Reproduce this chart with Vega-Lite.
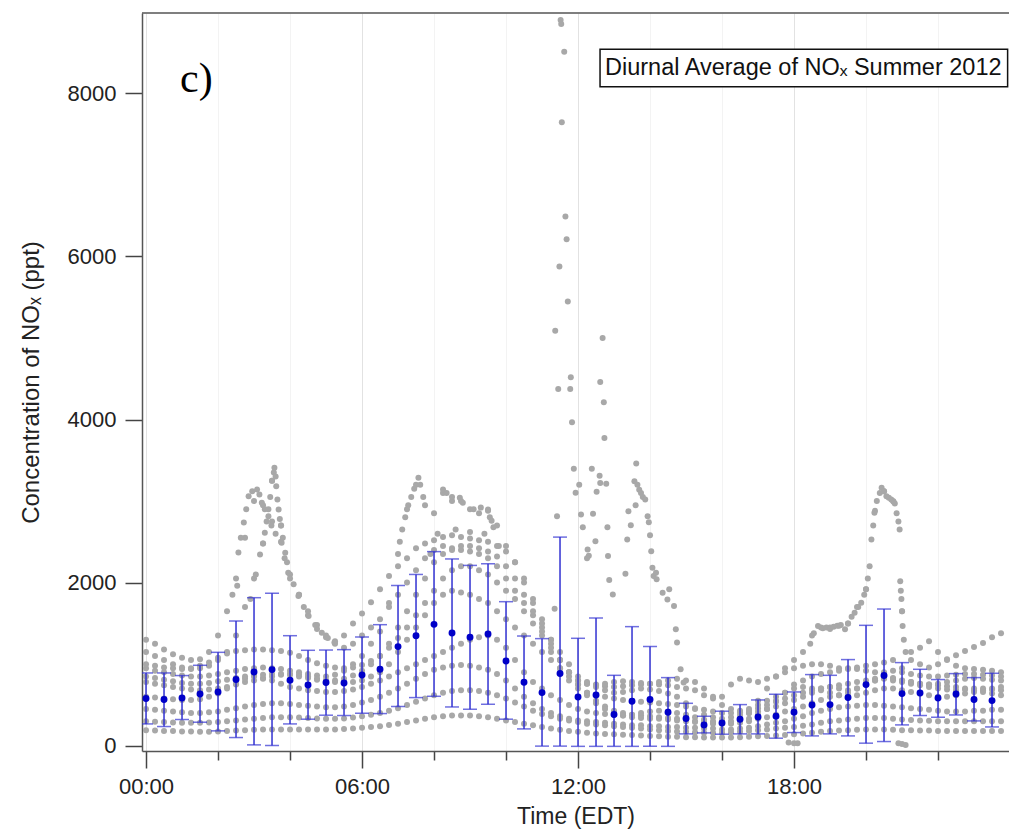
{
"$schema": "https://vega.github.io/schema/vega-lite/v6.json",
"width": 867, "height": 738,
"autosize": "none",
"padding": {"left": 142, "top": 13, "right": 0, "bottom": 84},
"background": "white",
"config": {"view": {"stroke": null}, "font": "Liberation Sans"},
"datasets": {
"g": [
{"t":0,"v":1300},{"t":15,"v":1250},{"t":30,"v":1180},{"t":45,"v":1120},{"t":60,"v":1080},{"t":75,"v":1050},{"t":90,"v":1060},{"t":105,"v":1150},{"t":120,"v":1350},{"t":135,"v":1650},{"t":150,"v":2050},{"t":165,"v":2550},{"t":180,"v":3000},{"t":195,"v":2950},{"t":210,"v":2750},{"t":225,"v":2500},{"t":240,"v":2100},{"t":255,"v":1850},{"t":270,"v":1600},{"t":285,"v":1430},{"t":300,"v":1330},{"t":315,"v":1280},{"t":330,"v":1350},{"t":345,"v":1500},{"t":360,"v":1620},{"t":375,"v":1760},{"t":390,"v":1920},{"t":405,"v":2080},{"t":420,"v":2200},{"t":435,"v":2300},{"t":450,"v":2420},{"t":465,"v":2480},{"t":480,"v":2520},{"t":495,"v":2560},{"t":510,"v":2580},{"t":525,"v":2560},{"t":540,"v":2540},{"t":555,"v":2520},{"t":570,"v":2500},{"t":585,"v":2450},{"t":600,"v":2380},{"t":615,"v":2250},{"t":630,"v":2050},{"t":645,"v":1800},{"t":660,"v":1550},{"t":675,"v":1300},{"t":690,"v":1050},{"t":705,"v":900},{"t":720,"v":800},{"t":735,"v":760},{"t":750,"v":740},{"t":765,"v":730},{"t":780,"v":720},{"t":795,"v":730},{"t":810,"v":740},{"t":825,"v":750},{"t":840,"v":760},{"t":855,"v":750},{"t":870,"v":740},{"t":885,"v":720},{"t":900,"v":700},{"t":915,"v":680},{"t":930,"v":620},{"t":945,"v":580},{"t":960,"v":600},{"t":975,"v":750},{"t":990,"v":820},{"t":1005,"v":800},{"t":1020,"v":780},{"t":1035,"v":820},{"t":1050,"v":850},{"t":1065,"v":900},{"t":1080,"v":950},{"t":1095,"v":980},{"t":1110,"v":1000},{"t":1125,"v":1000},{"t":1140,"v":980},{"t":1155,"v":950},{"t":1170,"v":950},{"t":1185,"v":940},{"t":1200,"v":920},{"t":1215,"v":900},{"t":1230,"v":900},{"t":1245,"v":920},{"t":1260,"v":950},{"t":1275,"v":1050},{"t":1290,"v":1200},{"t":1305,"v":1280},{"t":1320,"v":1150},{"t":1335,"v":1050},{"t":1350,"v":980},{"t":1365,"v":950},{"t":1380,"v":940},{"t":1395,"v":930},{"t":1410,"v":920},{"t":1425,"v":900},
{"t":0,"v":1150},{"t":15,"v":1100},{"t":30,"v":1050},{"t":45,"v":1000},{"t":60,"v":960},{"t":75,"v":940},{"t":90,"v":950},{"t":105,"v":980},{"t":120,"v":1050},{"t":135,"v":1150},{"t":150,"v":1350},{"t":165,"v":1700},{"t":180,"v":2050},{"t":195,"v":2480},{"t":210,"v":3250},{"t":225,"v":2700},{"t":240,"v":2050},{"t":255,"v":1850},{"t":270,"v":1650},{"t":285,"v":1480},{"t":300,"v":1350},{"t":315,"v":1250},{"t":330,"v":1200},{"t":345,"v":1250},{"t":360,"v":1350},{"t":375,"v":1450},{"t":390,"v":1550},{"t":405,"v":1700},{"t":420,"v":1850},{"t":435,"v":2000},{"t":450,"v":2150},{"t":465,"v":2300},{"t":480,"v":2400},{"t":495,"v":2450},{"t":510,"v":2420},{"t":525,"v":2400},{"t":540,"v":2380},{"t":555,"v":2350},{"t":570,"v":2300},{"t":585,"v":2200},{"t":600,"v":2050},{"t":615,"v":1900},{"t":630,"v":1750},{"t":645,"v":1600},{"t":660,"v":1450},{"t":675,"v":1300},{"t":690,"v":1150},{"t":705,"v":1000},{"t":720,"v":850},{"t":735,"v":780},{"t":750,"v":720},{"t":765,"v":680},{"t":780,"v":650},{"t":795,"v":660},{"t":810,"v":680},{"t":825,"v":700},{"t":840,"v":690},{"t":855,"v":670},{"t":870,"v":640},{"t":885,"v":600},{"t":900,"v":520},{"t":915,"v":450},{"t":930,"v":380},{"t":945,"v":350},{"t":960,"v":330},{"t":975,"v":350},{"t":990,"v":380},{"t":1005,"v":400},{"t":1020,"v":420},{"t":1035,"v":450},{"t":1050,"v":480},{"t":1065,"v":520},{"t":1080,"v":560},{"t":1095,"v":600},{"t":1110,"v":650},{"t":1125,"v":700},{"t":1140,"v":720},{"t":1155,"v":700},{"t":1170,"v":680},{"t":1185,"v":700},{"t":1200,"v":750},{"t":1215,"v":800},{"t":1230,"v":820},{"t":1245,"v":800},{"t":1260,"v":780},{"t":1275,"v":760},{"t":1290,"v":740},{"t":1305,"v":720},{"t":1320,"v":700},{"t":1335,"v":690},{"t":1350,"v":680},{"t":1365,"v":690},{"t":1380,"v":700},{"t":1395,"v":700},{"t":1410,"v":690},{"t":1425,"v":680},
{"t":0,"v":950},{"t":15,"v":920},{"t":30,"v":900},{"t":45,"v":880},{"t":60,"v":860},{"t":75,"v":850},{"t":90,"v":850},{"t":105,"v":860},{"t":120,"v":880},{"t":135,"v":900},{"t":150,"v":920},{"t":165,"v":940},{"t":180,"v":950},{"t":195,"v":960},{"t":210,"v":950},{"t":225,"v":940},{"t":240,"v":920},{"t":255,"v":900},{"t":270,"v":880},{"t":285,"v":860},{"t":300,"v":850},{"t":315,"v":870},{"t":330,"v":920},{"t":345,"v":1000},{"t":360,"v":1100},{"t":375,"v":1250},{"t":390,"v":1400},{"t":405,"v":1750},{"t":420,"v":2350},{"t":435,"v":2900},{"t":450,"v":3200},{"t":465,"v":2950},{"t":480,"v":2850},{"t":495,"v":3100},{"t":510,"v":3000},{"t":525,"v":3000},{"t":540,"v":2900},{"t":555,"v":2850},{"t":570,"v":2880},{"t":585,"v":2700},{"t":600,"v":2450},{"t":615,"v":2250},{"t":630,"v":2000},{"t":645,"v":1750},{"t":660,"v":1500},{"t":675,"v":1250},{"t":690,"v":1050},{"t":705,"v":900},{"t":720,"v":800},{"t":735,"v":760},{"t":750,"v":750},{"t":765,"v":760},{"t":780,"v":780},{"t":795,"v":790},{"t":810,"v":780},{"t":825,"v":770},{"t":840,"v":760},{"t":855,"v":780},{"t":870,"v":800},{"t":885,"v":820},{"t":900,"v":800},{"t":915,"v":780},{"t":930,"v":700},{"t":945,"v":600},{"t":960,"v":500},{"t":975,"v":450},{"t":990,"v":430},{"t":1005,"v":450},{"t":1020,"v":500},{"t":1035,"v":550},{"t":1050,"v":600},{"t":1065,"v":650},{"t":1080,"v":700},{"t":1095,"v":720},{"t":1110,"v":700},{"t":1125,"v":680},{"t":1140,"v":650},{"t":1155,"v":620},{"t":1170,"v":600},{"t":1185,"v":620},{"t":1200,"v":650},{"t":1215,"v":680},{"t":1230,"v":700},{"t":1245,"v":700},{"t":1260,"v":680},{"t":1275,"v":660},{"t":1290,"v":640},{"t":1305,"v":620},{"t":1320,"v":600},{"t":1335,"v":600},{"t":1350,"v":620},{"t":1365,"v":640},{"t":1380,"v":660},{"t":1395,"v":680},{"t":1410,"v":700},{"t":1425,"v":720},
{"t":0,"v":780},{"t":15,"v":760},{"t":30,"v":740},{"t":45,"v":720},{"t":60,"v":700},{"t":75,"v":690},{"t":90,"v":680},{"t":105,"v":690},{"t":120,"v":700},{"t":135,"v":720},{"t":150,"v":750},{"t":165,"v":780},{"t":180,"v":800},{"t":195,"v":820},{"t":210,"v":850},{"t":225,"v":870},{"t":240,"v":880},{"t":255,"v":870},{"t":270,"v":850},{"t":285,"v":820},{"t":300,"v":800},{"t":315,"v":780},{"t":330,"v":770},{"t":345,"v":780},{"t":360,"v":800},{"t":375,"v":850},{"t":390,"v":900},{"t":405,"v":1000},{"t":420,"v":1150},{"t":435,"v":1300},{"t":450,"v":1450},{"t":465,"v":1600},{"t":480,"v":1750},{"t":495,"v":1850},{"t":510,"v":1900},{"t":525,"v":1880},{"t":540,"v":1850},{"t":555,"v":1800},{"t":570,"v":1750},{"t":585,"v":1650},{"t":600,"v":1550},{"t":615,"v":1450},{"t":630,"v":1350},{"t":645,"v":1250},{"t":660,"v":1150},{"t":675,"v":1050},{"t":690,"v":950},{"t":705,"v":850},{"t":720,"v":750},{"t":735,"v":650},{"t":750,"v":550},{"t":765,"v":480},{"t":780,"v":430},{"t":795,"v":400},{"t":810,"v":380},{"t":825,"v":370},{"t":840,"v":360},{"t":855,"v":350},{"t":870,"v":340},{"t":885,"v":330},{"t":900,"v":320},{"t":915,"v":300},{"t":930,"v":290},{"t":945,"v":280},{"t":960,"v":290},{"t":975,"v":300},{"t":990,"v":320},{"t":1005,"v":400},{"t":1020,"v":550},{"t":1035,"v":700},{"t":1050,"v":850},{"t":1065,"v":950},{"t":1080,"v":1050},{"t":1095,"v":1150},{"t":1110,"v":1350},{"t":1125,"v":1450},{"t":1140,"v":1450},{"t":1155,"v":1470},{"t":1170,"v":1500},{"t":1185,"v":1700},{"t":1200,"v":1920},{"t":1215,"v":2880},{"t":1230,"v":3120},{"t":1245,"v":3000},{"t":1260,"v":1650},{"t":1275,"v":1150},{"t":1290,"v":1000},{"t":1305,"v":960},{"t":1320,"v":1000},{"t":1335,"v":1060},{"t":1350,"v":1110},{"t":1365,"v":1160},{"t":1380,"v":1210},{"t":1395,"v":1260},{"t":1410,"v":1330},{"t":1425,"v":1380},
{"t":0,"v":600},{"t":15,"v":590},{"t":30,"v":580},{"t":45,"v":570},{"t":60,"v":560},{"t":75,"v":560},{"t":90,"v":570},{"t":105,"v":600},{"t":120,"v":640},{"t":135,"v":700},{"t":150,"v":760},{"t":165,"v":820},{"t":180,"v":850},{"t":195,"v":830},{"t":210,"v":800},{"t":225,"v":760},{"t":240,"v":720},{"t":255,"v":700},{"t":270,"v":680},{"t":285,"v":670},{"t":300,"v":660},{"t":315,"v":660},{"t":330,"v":670},{"t":345,"v":690},{"t":360,"v":720},{"t":375,"v":760},{"t":390,"v":800},{"t":405,"v":850},{"t":420,"v":900},{"t":435,"v":950},{"t":450,"v":1000},{"t":465,"v":1050},{"t":480,"v":1100},{"t":495,"v":1150},{"t":510,"v":1200},{"t":525,"v":1250},{"t":540,"v":1300},{"t":555,"v":1330},{"t":570,"v":1350},{"t":585,"v":1300},{"t":600,"v":1200},{"t":615,"v":1050},{"t":630,"v":900},{"t":645,"v":780},{"t":660,"v":700},{"t":675,"v":620},{"t":690,"v":560},{"t":705,"v":500},{"t":720,"v":450},{"t":735,"v":420},{"t":750,"v":400},{"t":765,"v":390},{"t":780,"v":380},{"t":795,"v":370},{"t":810,"v":380},{"t":825,"v":400},{"t":840,"v":420},{"t":855,"v":430},{"t":870,"v":420},{"t":885,"v":400},{"t":900,"v":380},{"t":915,"v":350},{"t":930,"v":320},{"t":945,"v":300},{"t":960,"v":280},{"t":975,"v":270},{"t":990,"v":280},{"t":1005,"v":300},{"t":1020,"v":330},{"t":1035,"v":350},{"t":1050,"v":380},{"t":1065,"v":420},{"t":1080,"v":450},{"t":1095,"v":480},{"t":1110,"v":520},{"t":1125,"v":560},{"t":1140,"v":600},{"t":1155,"v":620},{"t":1170,"v":650},{"t":1185,"v":700},{"t":1200,"v":750},{"t":1215,"v":800},{"t":1230,"v":850},{"t":1245,"v":830},{"t":1260,"v":800},{"t":1275,"v":780},{"t":1290,"v":760},{"t":1305,"v":750},{"t":1320,"v":740},{"t":1335,"v":730},{"t":1350,"v":720},{"t":1365,"v":700},{"t":1380,"v":680},{"t":1395,"v":660},{"t":1410,"v":640},{"t":1425,"v":620},
{"t":0,"v":450},{"t":15,"v":440},{"t":30,"v":430},{"t":45,"v":420},{"t":60,"v":410},{"t":75,"v":400},{"t":90,"v":400},{"t":105,"v":410},{"t":120,"v":420},{"t":135,"v":440},{"t":150,"v":460},{"t":165,"v":480},{"t":180,"v":500},{"t":195,"v":510},{"t":210,"v":520},{"t":225,"v":520},{"t":240,"v":510},{"t":255,"v":500},{"t":270,"v":490},{"t":285,"v":480},{"t":300,"v":470},{"t":315,"v":470},{"t":330,"v":480},{"t":345,"v":500},{"t":360,"v":530},{"t":375,"v":560},{"t":390,"v":600},{"t":405,"v":650},{"t":420,"v":700},{"t":435,"v":760},{"t":450,"v":820},{"t":465,"v":880},{"t":480,"v":930},{"t":495,"v":960},{"t":510,"v":980},{"t":525,"v":990},{"t":540,"v":980},{"t":555,"v":960},{"t":570,"v":930},{"t":585,"v":880},{"t":600,"v":800},{"t":615,"v":700},{"t":630,"v":600},{"t":645,"v":520},{"t":660,"v":450},{"t":675,"v":400},{"t":690,"v":360},{"t":705,"v":330},{"t":720,"v":310},{"t":735,"v":300},{"t":750,"v":290},{"t":765,"v":280},{"t":780,"v":270},{"t":795,"v":260},{"t":810,"v":250},{"t":825,"v":250},{"t":840,"v":240},{"t":855,"v":240},{"t":870,"v":230},{"t":885,"v":230},{"t":900,"v":220},{"t":915,"v":220},{"t":930,"v":210},{"t":945,"v":210},{"t":960,"v":200},{"t":975,"v":200},{"t":990,"v":210},{"t":1005,"v":220},{"t":1020,"v":240},{"t":1035,"v":260},{"t":1050,"v":280},{"t":1065,"v":300},{"t":1080,"v":330},{"t":1095,"v":360},{"t":1110,"v":400},{"t":1125,"v":430},{"t":1140,"v":450},{"t":1155,"v":470},{"t":1170,"v":480},{"t":1185,"v":490},{"t":1200,"v":500},{"t":1215,"v":500},{"t":1230,"v":490},{"t":1245,"v":480},{"t":1260,"v":470},{"t":1275,"v":460},{"t":1290,"v":450},{"t":1305,"v":440},{"t":1320,"v":430},{"t":1335,"v":420},{"t":1350,"v":420},{"t":1365,"v":420},{"t":1380,"v":430},{"t":1395,"v":430},{"t":1410,"v":440},{"t":1425,"v":440},
{"t":0,"v":300},{"t":15,"v":295},{"t":30,"v":290},{"t":45,"v":285},{"t":60,"v":280},{"t":75,"v":280},{"t":90,"v":280},{"t":105,"v":285},{"t":120,"v":290},{"t":135,"v":300},{"t":150,"v":310},{"t":165,"v":320},{"t":180,"v":330},{"t":195,"v":340},{"t":210,"v":350},{"t":225,"v":350},{"t":240,"v":350},{"t":255,"v":345},{"t":270,"v":340},{"t":285,"v":335},{"t":300,"v":330},{"t":315,"v":330},{"t":330,"v":335},{"t":345,"v":345},{"t":360,"v":360},{"t":375,"v":380},{"t":390,"v":400},{"t":405,"v":430},{"t":420,"v":460},{"t":435,"v":500},{"t":450,"v":540},{"t":465,"v":580},{"t":480,"v":620},{"t":495,"v":650},{"t":510,"v":670},{"t":525,"v":680},{"t":540,"v":680},{"t":555,"v":670},{"t":570,"v":650},{"t":585,"v":620},{"t":600,"v":580},{"t":615,"v":530},{"t":630,"v":480},{"t":645,"v":430},{"t":660,"v":390},{"t":675,"v":360},{"t":690,"v":330},{"t":705,"v":310},{"t":720,"v":290},{"t":735,"v":270},{"t":750,"v":260},{"t":765,"v":250},{"t":780,"v":240},{"t":795,"v":230},{"t":810,"v":220},{"t":825,"v":210},{"t":840,"v":200},{"t":855,"v":190},{"t":870,"v":180},{"t":885,"v":175},{"t":900,"v":170},{"t":915,"v":165},{"t":930,"v":160},{"t":945,"v":160},{"t":960,"v":160},{"t":975,"v":165},{"t":990,"v":170},{"t":1005,"v":180},{"t":1020,"v":190},{"t":1035,"v":200},{"t":1050,"v":210},{"t":1065,"v":220},{"t":1080,"v":230},{"t":1095,"v":245},{"t":1110,"v":260},{"t":1125,"v":280},{"t":1140,"v":300},{"t":1155,"v":310},{"t":1170,"v":320},{"t":1185,"v":330},{"t":1200,"v":340},{"t":1215,"v":340},{"t":1230,"v":340},{"t":1245,"v":330},{"t":1260,"v":320},{"t":1275,"v":315},{"t":1290,"v":310},{"t":1305,"v":305},{"t":1320,"v":300},{"t":1335,"v":300},{"t":1350,"v":300},{"t":1365,"v":300},{"t":1380,"v":300},{"t":1395,"v":300},{"t":1410,"v":300},{"t":1425,"v":300},
{"t":0,"v":190},{"t":15,"v":185},{"t":30,"v":180},{"t":45,"v":180},{"t":60,"v":175},{"t":75,"v":175},{"t":90,"v":170},{"t":105,"v":170},{"t":120,"v":175},{"t":135,"v":180},{"t":150,"v":185},{"t":165,"v":190},{"t":180,"v":195},{"t":195,"v":200},{"t":210,"v":200},{"t":225,"v":200},{"t":240,"v":200},{"t":255,"v":200},{"t":270,"v":200},{"t":285,"v":200},{"t":300,"v":200},{"t":315,"v":200},{"t":330,"v":205},{"t":345,"v":210},{"t":360,"v":220},{"t":375,"v":230},{"t":390,"v":240},{"t":405,"v":255},{"t":420,"v":270},{"t":435,"v":290},{"t":450,"v":310},{"t":465,"v":330},{"t":480,"v":350},{"t":495,"v":360},{"t":510,"v":370},{"t":525,"v":370},{"t":540,"v":370},{"t":555,"v":360},{"t":570,"v":350},{"t":585,"v":330},{"t":600,"v":310},{"t":615,"v":290},{"t":630,"v":270},{"t":645,"v":250},{"t":660,"v":230},{"t":675,"v":210},{"t":690,"v":195},{"t":705,"v":180},{"t":720,"v":170},{"t":735,"v":160},{"t":750,"v":150},{"t":765,"v":145},{"t":780,"v":140},{"t":795,"v":135},{"t":810,"v":130},{"t":825,"v":125},{"t":840,"v":120},{"t":855,"v":115},{"t":870,"v":110},{"t":885,"v":110},{"t":900,"v":105},{"t":915,"v":105},{"t":930,"v":100},{"t":945,"v":100},{"t":960,"v":100},{"t":975,"v":100},{"t":990,"v":105},{"t":1005,"v":110},{"t":1020,"v":115},{"t":1035,"v":120},{"t":1050,"v":125},{"t":1065,"v":130},{"t":1080,"v":140},{"t":1095,"v":150},{"t":1110,"v":160},{"t":1125,"v":170},{"t":1140,"v":180},{"t":1155,"v":185},{"t":1170,"v":190},{"t":1185,"v":195},{"t":1200,"v":200},{"t":1215,"v":200},{"t":1230,"v":200},{"t":1245,"v":195},{"t":1260,"v":190},{"t":1275,"v":190},{"t":1290,"v":185},{"t":1305,"v":185},{"t":1320,"v":180},{"t":1335,"v":180},{"t":1350,"v":180},{"t":1365,"v":180},{"t":1380,"v":180},{"t":1395,"v":180},{"t":1410,"v":180},{"t":1425,"v":180},
{"t":0,"v":1000},{"t":15,"v":980},{"t":30,"v":960},{"t":45,"v":950},{"t":60,"v":940},{"t":75,"v":950},{"t":90,"v":980},{"t":105,"v":1020},{"t":120,"v":1080},{"t":135,"v":1130},{"t":150,"v":1160},{"t":165,"v":1170},{"t":180,"v":1180},{"t":195,"v":1180},{"t":210,"v":1170},{"t":225,"v":1160},{"t":240,"v":1140},{"t":255,"v":1100},{"t":270,"v":1050},{"t":285,"v":1010},{"t":300,"v":980},{"t":315,"v":960},{"t":330,"v":950},{"t":345,"v":960},{"t":360,"v":990},{"t":375,"v":1040},{"t":390,"v":1100},{"t":405,"v":1200},{"t":420,"v":1320},{"t":435,"v":1450},{"t":450,"v":1600},{"t":465,"v":1750},{"t":480,"v":1900},{"t":495,"v":2050},{"t":510,"v":2150},{"t":525,"v":2200},{"t":540,"v":2200},{"t":555,"v":2150},{"t":570,"v":2100},{"t":585,"v":2000},{"t":600,"v":1900},{"t":615,"v":1800},{"t":630,"v":1650},{"t":645,"v":1500},{"t":660,"v":1350},{"t":675,"v":1200},{"t":690,"v":1050},{"t":705,"v":900},{"t":720,"v":750},{"t":735,"v":620},{"t":750,"v":520},{"t":765,"v":450},{"t":780,"v":400},{"t":795,"v":370},{"t":810,"v":350},{"t":825,"v":340},{"t":840,"v":330},{"t":855,"v":330},{"t":870,"v":320},{"t":885,"v":310},{"t":900,"v":300},{"t":915,"v":290},{"t":930,"v":280},{"t":945,"v":270},{"t":960,"v":270},{"t":975,"v":280},{"t":990,"v":300},{"t":1005,"v":330},{"t":1020,"v":380},{"t":1035,"v":450},{"t":1050,"v":550},{"t":1065,"v":650},{"t":1080,"v":750},{"t":1095,"v":800},{"t":1110,"v":850},{"t":1125,"v":880},{"t":1140,"v":900},{"t":1155,"v":920},{"t":1170,"v":940},{"t":1185,"v":960},{"t":1200,"v":980},{"t":1215,"v":1000},{"t":1230,"v":1020},{"t":1245,"v":1050},{"t":1260,"v":900},{"t":1275,"v":880},{"t":1290,"v":860},{"t":1305,"v":850},{"t":1320,"v":850},{"t":1335,"v":860},{"t":1350,"v":870},{"t":1365,"v":880},{"t":1380,"v":880},{"t":1395,"v":870},{"t":1410,"v":860},{"t":1425,"v":850},
{"t":0,"v":850},{"t":15,"v":830},{"t":30,"v":810},{"t":45,"v":790},{"t":60,"v":770},{"t":75,"v":760},{"t":90,"v":760},{"t":105,"v":770},{"t":120,"v":790},{"t":135,"v":810},{"t":150,"v":830},{"t":165,"v":850},{"t":180,"v":860},{"t":195,"v":870},{"t":210,"v":880},{"t":225,"v":880},{"t":240,"v":870},{"t":255,"v":850},{"t":270,"v":830},{"t":285,"v":810},{"t":300,"v":800},{"t":315,"v":800},{"t":330,"v":820},{"t":345,"v":860},{"t":360,"v":920},{"t":375,"v":1000},{"t":390,"v":1100},{"t":405,"v":1250},{"t":420,"v":1450},{"t":435,"v":1650},{"t":450,"v":1850},{"t":465,"v":2050},{"t":480,"v":2250},{"t":495,"v":2350},{"t":510,"v":2400},{"t":525,"v":2450},{"t":540,"v":2450},{"t":555,"v":2420},{"t":570,"v":2380},{"t":585,"v":2320},{"t":600,"v":2200},{"t":615,"v":2050},{"t":630,"v":1850},{"t":645,"v":1650},{"t":660,"v":1400},{"t":675,"v":1150},{"t":690,"v":950},{"t":705,"v":800},{"t":720,"v":700},{"t":735,"v":650},{"t":750,"v":620},{"t":765,"v":600},{"t":780,"v":580},{"t":795,"v":560},{"t":810,"v":550},{"t":825,"v":540},{"t":840,"v":530},{"t":855,"v":520},{"t":870,"v":510},{"t":885,"v":500},{"t":900,"v":480},{"t":915,"v":460},{"t":930,"v":440},{"t":945,"v":420},{"t":960,"v":400},{"t":975,"v":400},{"t":990,"v":410},{"t":1005,"v":430},{"t":1020,"v":460},{"t":1035,"v":500},{"t":1050,"v":540},{"t":1065,"v":580},{"t":1080,"v":620},{"t":1095,"v":650},{"t":1110,"v":680},{"t":1125,"v":700},{"t":1140,"v":720},{"t":1155,"v":740},{"t":1170,"v":760},{"t":1185,"v":780},{"t":1200,"v":800},{"t":1215,"v":820},{"t":1230,"v":830},{"t":1245,"v":820},{"t":1260,"v":800},{"t":1275,"v":780},{"t":1290,"v":760},{"t":1305,"v":750},{"t":1320,"v":760},{"t":1335,"v":780},{"t":1350,"v":800},{"t":1365,"v":820},{"t":1380,"v":830},{"t":1395,"v":820},{"t":1410,"v":810},{"t":1425,"v":800},
{"t":144,"v":1850},{"t":152,"v":1960},{"t":154,"v":2370},{"t":158,"v":2550},{"t":163,"v":2737},{"t":167,"v":2900},{"t":171,"v":3060},{"t":177,"v":3120},{"t":185,"v":3141},{"t":189,"v":3080},{"t":193,"v":2980},{"t":198,"v":2900},{"t":204,"v":2815},{"t":209,"v":2700},{"t":216,"v":2600},{"t":226,"v":2488},{"t":231,"v":2300},{"t":237,"v":2121},{"t":246,"v":1980},{"t":254,"v":1835},{"t":263,"v":1700},{"t":271,"v":1590},{"t":282,"v":1480},{"t":293,"v":1386},{"t":303,"v":1320},{"t":314,"v":1267},
{"t":174,"v":1800},{"t":183,"v":2100},{"t":190,"v":2345},{"t":195,"v":2480},{"t":198,"v":2610},{"t":201,"v":2750},{"t":204,"v":2900},{"t":207,"v":3050},{"t":210,"v":3250},{"t":213,"v":3350},{"t":214,"v":3407},{"t":216,"v":3300},{"t":217,"v":3182},{"t":219,"v":3019},{"t":221,"v":2896},{"t":223,"v":2780},{"t":225,"v":2700},{"t":228,"v":2550},{"t":232,"v":2366},{"t":235,"v":2250},
{"t":423,"v":2500},{"t":427,"v":2650},{"t":432,"v":2800},{"t":437,"v":2950},{"t":442,"v":3050},{"t":447,"v":3150},{"t":454,"v":3285},{"t":457,"v":3200},{"t":462,"v":3050},{"t":495,"v":3141},{"t":501,"v":3100},{"t":510,"v":3050},{"t":523,"v":3040},{"t":528,"v":2980},{"t":546,"v":2900},{"t":558,"v":2920},{"t":570,"v":2896},{"t":573,"v":2800},{"t":576,"v":2760},{"t":579,"v":2680},{"t":474,"v":2350},{"t":486,"v":2600},{"t":516,"v":2650},{"t":540,"v":2620},{"t":564,"v":2600},{"t":588,"v":2450},
{"t":691,"v":8900},{"t":692,"v":8850},{"t":697,"v":8510},{"t":693,"v":7644},{"t":699,"v":6489},{"t":701,"v":6211},{"t":689,"v":5876},{"t":703,"v":5447},{"t":682,"v":5089},{"t":761,"v":4999},{"t":708,"v":4517},{"t":687,"v":4375},{"t":707,"v":4375},{"t":757,"v":4460},{"t":763,"v":4211},{"t":710,"v":3966},{"t":764,"v":3774},{"t":713,"v":3395},{"t":743,"v":3395},{"t":756,"v":3310},{"t":757,"v":3220},{"t":817,"v":3460},{"t":722,"v":3199},{"t":767,"v":3211},{"t":716,"v":3101},{"t":751,"v":3113},{"t":814,"v":3243},{"t":819,"v":3200},{"t":822,"v":3140},{"t":825,"v":3100},{"t":828,"v":3050},{"t":832,"v":3019},{"t":816,"v":2950},{"t":804,"v":2876},{"t":685,"v":2815},{"t":725,"v":2835},{"t":745,"v":2843},{"t":728,"v":2680},{"t":769,"v":2680},{"t":808,"v":2704},{"t":836,"v":2815},{"t":838,"v":2740},{"t":840,"v":2582},{"t":802,"v":2529},{"t":749,"v":2508},{"t":736,"v":2407},{"t":738,"v":2330},{"t":735,"v":2300},{"t":770,"v":2325},{"t":842,"v":2386},{"t":844,"v":2182},{"t":846,"v":2080},{"t":799,"v":2109},{"t":772,"v":2031},{"t":681,"v":1680},{"t":778,"v":1855},{"t":850,"v":2120},{"t":851,"v":2040},{"t":861,"v":1876},{"t":872,"v":1917},{"t":869,"v":1794},{"t":880,"v":1712},{"t":883,"v":1427},{"t":885,"v":1264},{"t":891,"v":937},{"t":896,"v":774},
{"t":1107,"v":1250},{"t":1113,"v":1380},{"t":1120,"v":1467},{"t":1128,"v":1440},{"t":1134,"v":1450},{"t":1140,"v":1430},{"t":1146,"v":1460},{"t":1152,"v":1470},{"t":1158,"v":1480},{"t":1165,"v":1427},{"t":1170,"v":1500},{"t":1176,"v":1580},{"t":1181,"v":1631},{"t":1187,"v":1700},{"t":1192,"v":1754},{"t":1197,"v":1850},{"t":1200,"v":1917},{"t":1203,"v":2050},{"t":1206,"v":2202},{"t":1209,"v":2529},{"t":1212,"v":2700},{"t":1214,"v":2856},{"t":1218,"v":3000},{"t":1223,"v":3100},{"t":1226,"v":3162},{"t":1230,"v":3120},{"t":1234,"v":3060},{"t":1238,"v":3040},{"t":1242,"v":3019},{"t":1246,"v":2990},{"t":1248,"v":2970},{"t":1251,"v":2850},{"t":1254,"v":2750},{"t":1256,"v":2651},{"t":1257,"v":2018},{"t":1258,"v":1900},{"t":1259,"v":1800},{"t":1260,"v":1650},{"t":1261,"v":1467},{"t":1263,"v":1300},{"t":1266,"v":1150},
{"t":1254,"v":30},{"t":1260,"v":20},{"t":1266,"v":10},{"t":1071,"v":40},{"t":1080,"v":30},{"t":1086,"v":30}
],
"m": [
{"t":0,"m":578,"lo":267,"hi":892},{"t":30,"m":566,"lo":235,"hi":892},{"t":60,"m":586,"lo":321,"hi":860},{"t":90,"m":635,"lo":288,"hi":986},{"t":120,"m":659,"lo":182,"hi":1145},{"t":150,"m":811,"lo":100,"hi":1529},{"t":180,"m":904,"lo":10,"hi":1815},{"t":210,"m":933,"lo":2,"hi":1868},{"t":240,"m":802,"lo":267,"hi":1349},{"t":270,"m":745,"lo":325,"hi":1170},{"t":300,"m":774,"lo":374,"hi":1173},{"t":330,"m":769,"lo":370,"hi":1178},{"t":360,"m":867,"lo":398,"hi":1333},{"t":390,"m":937,"lo":394,"hi":1484},{"t":420,"m":1215,"lo":480,"hi":1966},{"t":450,"m":1349,"lo":590,"hi":2100},{"t":480,"m":1488,"lo":606,"hi":2380},{"t":510,"m":1381,"lo":475,"hi":2290},{"t":540,"m":1329,"lo":447,"hi":2211},{"t":570,"m":1369,"lo":508,"hi":2231},{"t":600,"m":1039,"lo":325,"hi":1766},{"t":630,"m":778,"lo":206,"hi":1345},{"t":660,"m":651,"lo":-5,"hi":1313},{"t":690,"m":886,"lo":-5,"hi":2558},{"t":720,"m":598,"lo":-8,"hi":1317},{"t":750,"m":622,"lo":-8,"hi":1566},{"t":780,"m":382,"lo":-8,"hi":863},{"t":810,"m":545,"lo":-8,"hi":1460},{"t":840,"m":566,"lo":-8,"hi":1215},{"t":870,"m":410,"lo":-8,"hi":835},{"t":900,"m":333,"lo":145,"hi":520},{"t":930,"m":255,"lo":157,"hi":361},{"t":960,"m":279,"lo":141,"hi":423},{"t":990,"m":325,"lo":145,"hi":504},{"t":1020,"m":353,"lo":145,"hi":561},{"t":1050,"m":361,"lo":92,"hi":631},{"t":1080,"m":410,"lo":161,"hi":659},{"t":1110,"m":500,"lo":120,"hi":872},{"t":1140,"m":504,"lo":145,"hi":863},{"t":1170,"m":590,"lo":120,"hi":1056},{"t":1200,"m":749,"lo":31,"hi":1476},{"t":1230,"m":860,"lo":51,"hi":1676},{"t":1260,"m":639,"lo":255,"hi":1019},{"t":1290,"m":647,"lo":370,"hi":937},{"t":1320,"m":586,"lo":349,"hi":811},{"t":1350,"m":635,"lo":377,"hi":884},{"t":1380,"m":566,"lo":304,"hi":835},{"t":1410,"m":553,"lo":230,"hi":888}
]
},
"layer": [
{"data": {"name": "g"},
 "mark": {"type": "circle", "size": 36, "color": "#a8a8a8", "opacity": 1, "clip": true},
 "encoding": {
  "x": {"field": "t", "type": "quantitative",
   "scale": {"domain": [-6.7, 1438.3], "nice": false, "zero": false},
   "axis": {"title": "Time (EDT)", "values": [0,60,120,180,240,300,360,420,480,540,600,660,720,780,840,900,960,1020,1080,1140,1200,1260,1320,1380],
    "labelExpr": "datum.value == 0 ? '00:00' : datum.value == 360 ? '06:00' : datum.value == 720 ? '12:00' : datum.value == 1080 ? '18:00' : ''",
    "tickSize": {"condition": {"test": "datum.value % 360 === 0", "value": 17}, "value": 9},
    "tickColor": "#444", "tickWidth": 1.5, "domainColor": "#555", "domainWidth": 1.5,
    "grid": true, "gridColor": {"condition": {"test": "datum.value % 360 === 0", "value": "#e2e2e2"}, "value": "#f3f3f3"}, "gridWidth": 1,
    "labelFont": "Liberation Sans", "labelFontSize": 22, "labelColor": "#222", "labelPadding": 8, "labelFlush": false, "labelOverlap": false,
    "titleFont": "Liberation Sans", "titleFontSize": 23, "titleFontWeight": "normal", "titleColor": "#222", "titlePadding": 8}},
  "y": {"field": "v", "type": "quantitative",
   "scale": {"domain": [-65, 8985], "nice": false, "zero": false},
   "axis": {"title": "Concentration of NOₓ (ppt)", "values": [0,2000,4000,6000,8000], "format": "d", "tickSize": 17, "tickColor": "#444", "tickWidth": 1.5,
    "domainColor": "#555", "domainWidth": 1.5, "grid": false,
    "labelFont": "Liberation Sans", "labelFontSize": 22, "labelColor": "#222", "labelPadding": 9,
    "titleFont": "Liberation Sans", "titleFontSize": 24, "titleFontWeight": "normal", "titleColor": "#222", "titlePadding": 24}}
 }},
{"data": {"name": "m"},
 "mark": {"type": "rule", "color": "#3232d2", "strokeWidth": 1.5, "clip": true},
 "encoding": {"x": {"field": "t", "type": "quantitative"}, "y": {"field": "lo", "type": "quantitative"}, "y2": {"field": "hi"}}},
{"data": {"name": "m"},
 "mark": {"type": "tick", "orient": "horizontal", "color": "#3232d2", "thickness": 1.5, "size": 14, "clip": true},
 "encoding": {"x": {"field": "t", "type": "quantitative"}, "y": {"field": "hi", "type": "quantitative"}}},
{"data": {"name": "m"},
 "mark": {"type": "tick", "orient": "horizontal", "color": "#3232d2", "thickness": 1.5, "size": 14, "clip": true},
 "encoding": {"x": {"field": "t", "type": "quantitative"}, "y": {"field": "lo", "type": "quantitative"}}},
{"data": {"name": "m"},
 "mark": {"type": "circle", "size": 48, "color": "#0000c8", "opacity": 1},
 "encoding": {"x": {"field": "t", "type": "quantitative"}, "y": {"field": "m", "type": "quantitative"}}},
{"data": {"values": [{}]},
 "mark": {"type": "rect", "fill": "white", "stroke": "#111", "strokeWidth": 1.5},
 "encoding": {"x": {"datum": 756.7}, "x2": {"datum": 1436}, "y": {"datum": 8540}, "y2": {"datum": 8081}}},
{"data": {"values": [{}]},
 "mark": {"type": "text", "text": "Diurnal Average of NOₓ Summer 2012", "font": "Liberation Sans", "fontSize": 23.5, "color": "#111", "align": "left", "baseline": "alphabetic"},
 "encoding": {"x": {"datum": 765}, "y": {"datum": 8224}}},
{"data": {"values": [{}]},
 "mark": {"type": "text", "text": "c)", "font": "Liberation Serif", "fontSize": 42, "color": "#000", "align": "left", "baseline": "alphabetic"},
 "encoding": {"x": {"datum": 56.7}, "y": {"datum": 8016}}},
{"data": {"values": [{}]},
 "mark": {"type": "rule", "color": "#555", "strokeWidth": 1.5},
 "encoding": {"y": {"datum": 8985}}}
]
}
